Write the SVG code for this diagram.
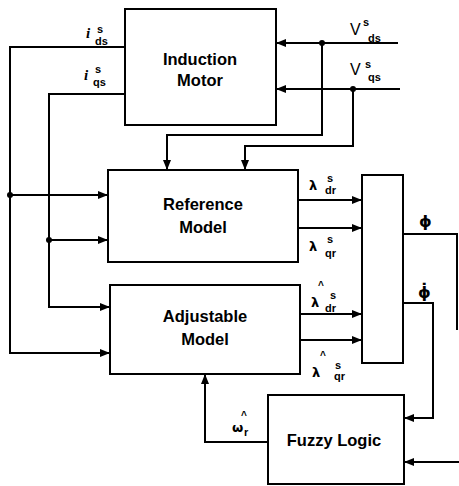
<svg xmlns="http://www.w3.org/2000/svg" width="459" height="486" viewBox="0 0 459 486">
<defs>
<marker id="ah" viewBox="0 0 10 8" refX="10" refY="4" markerWidth="10" markerHeight="8" markerUnits="userSpaceOnUse" orient="auto">
<path d="M0,0 L10,4 L0,8 Z" fill="#000"/>
</marker>
<style>
.box{fill:#fff;stroke:#000;stroke-width:2}
.ln{fill:none;stroke:#000;stroke-width:2}
.ar{fill:none;stroke:#000;stroke-width:2;marker-end:url(#ah)}
.lbl{font-family:"Liberation Sans",Arial,sans-serif;font-weight:bold;font-size:16.5px;text-anchor:middle;fill:#000}
.sym{font-family:"DejaVu Sans","Liberation Sans",sans-serif;font-weight:bold;fill:#000}
.sub{font-family:"Liberation Sans",Arial,sans-serif;font-weight:bold;font-size:11px;fill:#000}
.big{font-family:"Liberation Sans",Arial,sans-serif;font-size:16px;fill:#000}
.hat{font-family:"Liberation Sans",Arial,sans-serif;font-weight:bold;font-size:10px;fill:#000}
.it{font-family:"Liberation Serif","Times New Roman",serif;font-style:italic;font-weight:bold;font-size:15px;fill:#000}
</style>
</defs>
<rect width="459" height="486" fill="#fff"/>

<g id="connectors">
<polyline class="ar" points="125,47 10,47 10,353 110,353"/>
<polyline class="ar" points="125,94 49,94 49,307 110,307"/>
<line class="ar" x1="10" y1="195" x2="108" y2="195"/>
<line class="ar" x1="49" y1="240" x2="108" y2="240"/>
<circle cx="10" cy="195" r="3" fill="#000"/>
<circle cx="49" cy="240" r="3" fill="#000"/>
<line class="ar" x1="398" y1="43" x2="276" y2="43"/>
<line class="ar" x1="400" y1="89" x2="276" y2="89"/>
<polyline class="ar" points="322,43 322,135 167,135 167,170"/>
<polyline class="ar" points="353,89 353,146 245,146 245,170"/>
<circle cx="322" cy="43" r="3" fill="#000"/>
<circle cx="353" cy="89" r="3" fill="#000"/>
<line class="ar" x1="298" y1="200" x2="362" y2="200"/>
<line class="ar" x1="298" y1="228" x2="362" y2="228"/>
<line class="ar" x1="300" y1="314" x2="362" y2="314"/>
<line class="ar" x1="300" y1="340" x2="362" y2="340"/>
<polyline class="ln" points="402,234 457,234 457,330"/>
<polyline class="ar" points="402,303 433,303 433,418 404,418"/>
<line class="ar" x1="459" y1="462" x2="404" y2="462"/>
<polyline class="ar" points="268,442 205,442 205,374"/>
</g>

<g id="induction-motor">
<rect class="box" x="125" y="9" width="151" height="116"/>
<text class="lbl" x="200" y="65">Induction</text>
<text class="lbl" x="200" y="86">Motor</text>
</g>

<g id="reference-model">
<rect class="box" x="108" y="170" width="190" height="92"/>
<text class="lbl" x="203" y="210">Reference</text>
<text class="lbl" x="203" y="233">Model</text>
</g>

<g id="adjustable-model">
<rect class="box" x="110" y="285" width="190" height="89"/>
<text class="lbl" x="205" y="322">Adjustable</text>
<text class="lbl" x="205" y="345">Model</text>
</g>

<g id="comparator">
<rect class="box" x="362" y="175" width="41" height="188"/>
</g>

<g id="fuzzy-logic">
<rect class="box" x="268" y="395" width="136" height="89"/>
<text class="lbl" x="334" y="446">Fuzzy Logic</text>
</g>

<g id="labels">
<text class="it" x="86" y="38">i</text>
<text class="sub" x="97" y="33">s</text>
<text class="sub" x="95" y="45">ds</text>
<text class="it" x="84" y="80">i</text>
<text class="sub" x="95" y="73">s</text>
<text class="sub" x="93" y="86">qs</text>

<text class="big" x="350" y="35">V</text>
<text class="sub" x="363" y="26">s</text>
<text class="sub" x="368" y="42">ds</text>
<text class="big" x="350" y="75">V</text>
<text class="sub" x="365" y="68">s</text>
<text class="sub" x="368" y="81">qs</text>

<text class="sym" x="309" y="190" font-size="13">λ</text>
<text class="sub" x="327" y="182">s</text>
<text class="sub" x="325" y="194">dr</text>
<text class="sym" x="309" y="251" font-size="13">λ</text>
<text class="sub" x="327" y="243">s</text>
<text class="sub" x="325" y="257">qr</text>

<text class="hat" x="318" y="289">^</text>
<text class="sym" x="311" y="307" font-size="13">λ</text>
<text class="sub" x="330" y="299">s</text>
<text class="sub" x="325" y="312">dr</text>
<text class="hat" x="320" y="359">^</text>
<text class="sym" x="312" y="377" font-size="13">λ</text>
<text class="sub" x="335" y="369">s</text>
<text class="sub" x="334" y="380">qr</text>

<text class="sym" x="419" y="227" font-size="16">ϕ</text>
<text class="sym" x="418" y="298" font-size="16">ϕ̇</text>

<text class="hat" x="241" y="419">^</text>
<text class="sym" x="232" y="432" font-size="13">ω</text>
<text class="sub" x="244" y="436">r</text>
</g>
</svg>
